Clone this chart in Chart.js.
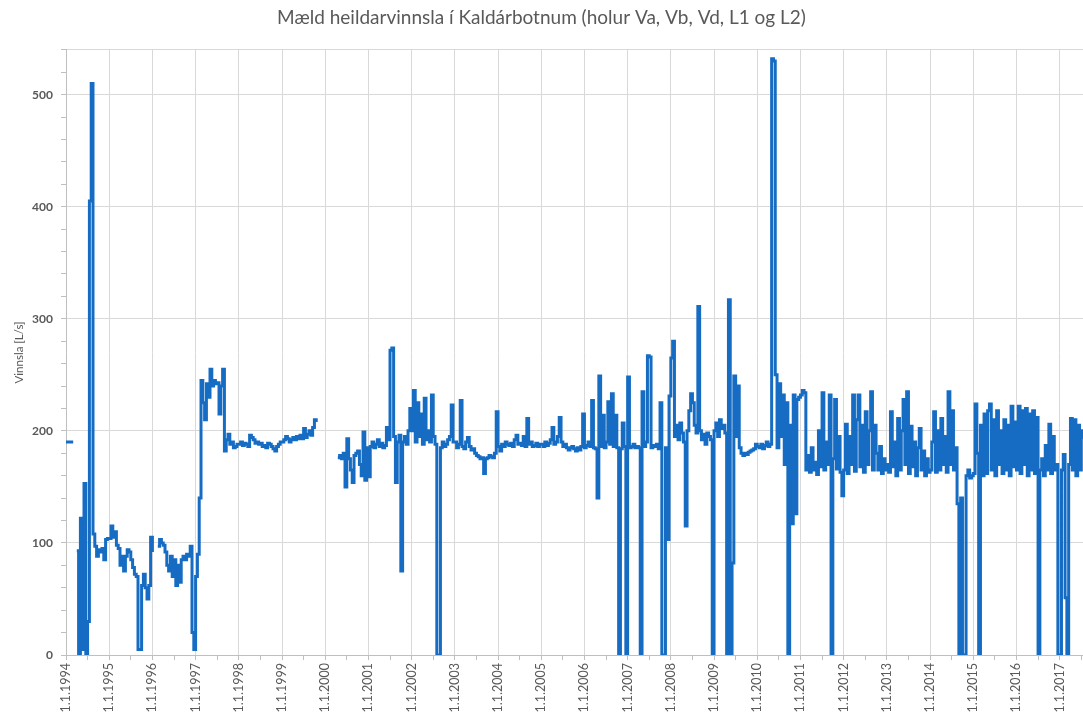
<!DOCTYPE html>
<html lang="is">
<head>
<meta charset="utf-8">
<title>Vinnsla í Kaldárbotnum</title>
<script src="https://cdn.jsdelivr.net/npm/chart.js@4.4.1/dist/chart.umd.min.js"></script>
<style>
  html, body { margin: 0; padding: 0; background: #fff; }
  canvas { display: block; }
</style>
</head>
<body>
<canvas id="vinnslaChart" width="1083" height="715"></canvas>
<script>
// Mæld vinnsla [L/s], hálfsmánaðargildi (24 á ári), null = engar mælingar
const years = [1994, 1995, 1996, 1997, 1998, 1999, 2000, 2001, 2002, 2003, 2004, 2005,
               2006, 2007, 2008, 2009, 2010, 2011, 2012, 2013, 2014, 2015, 2016, 2017];

const flow1994 = [190,190,190,190,190,null,93,0,122,5,153,0,30,405,510,108,97,88,94,92,95,85,103,104];
const flow1995 = [104,115,105,110,98,95,80,88,75,88,94,92,85,78,72,70,5,5,62,72,60,50,62,105];
const flow1996 = [92,null,null,97,103,100,98,92,80,75,88,70,85,62,80,65,85,88,85,90,88,97,20,5];
const flow1997 = [70,90,140,245,225,210,242,230,255,240,245,242,243,215,240,255,182,192,197,188,190,185,186,188];
const flow1998 = [188,190,187,189,188,186,196,194,192,189,190,188,189,186,187,185,189,188,186,184,182,186,188,190];
const flow1999 = [190,192,195,193,190,192,194,192,195,193,196,193,202,194,197,200,196,203,210,208,null,null,null,null];
const flow2000 = [null,null,null,null,null,null,null,176,178,175,180,150,193,175,165,154,178,180,182,170,160,199,156,185];
const flow2001 = [159,186,190,185,188,192,186,189,185,187,203,192,272,274,195,154,190,196,75,190,195,188,200,220];
const flow2002 = [200,236,190,225,195,215,188,229,192,200,190,232,195,188,0,0,185,190,186,188,192,195,223,190];
const flow2003 = [190,185,188,227,186,184,190,194,186,183,184,180,178,177,175,176,162,175,176,178,177,176,180,217];
const flow2004 = [186,182,188,186,190,188,187,189,186,192,196,188,189,187,195,186,211,188,190,186,187,189,186,188];
const flow2005 = [188,186,190,187,189,192,203,188,190,195,212,190,186,188,185,183,185,186,184,182,185,183,186,215];
const flow2006 = [185,187,190,186,227,185,184,140,249,186,214,185,190,226,188,233,186,214,185,0,184,207,186,0];
const flow2007 = [248,185,186,188,185,186,185,0,235,186,190,267,266,185,187,186,188,184,225,0,0,185,103,231];
const flow2008 = [265,280,195,205,192,207,198,190,115,200,218,233,225,205,198,311,200,192,197,188,198,195,192,0];
const flow2009 = [200,207,195,210,202,205,198,0,317,0,82,249,195,240,185,180,178,180,179,181,182,183,184,188];
const flow2010 = [186,185,188,184,187,190,186,188,532,530,250,185,242,195,232,170,225,0,205,117,232,126,228,230];
const flow2011 = [232,236,234,165,178,163,185,165,172,161,200,168,234,165,190,170,232,0,175,228,166,195,163,142];
const flow2012 = [165,206,162,195,170,232,164,210,232,168,205,163,217,170,200,235,165,205,180,165,186,162,175,165];
const flow2013 = [170,163,217,168,190,160,211,165,200,228,170,235,162,204,168,190,160,185,202,165,182,160,175,163];
const flow2014 = [165,190,217,163,200,165,211,170,195,163,235,170,218,165,185,135,0,140,0,0,160,165,158,160];
const flow2015 = [162,224,180,0,205,160,215,162,218,224,165,210,160,218,170,200,162,210,165,205,160,222,168,208];
const flow2016 = [165,222,162,218,170,220,160,215,165,218,162,212,0,165,175,160,187,165,206,162,195,165,170,0];
const flow2017 = [0,165,179,51,0,170,211,165,210,160,205,165,200,193];

const flowByYear = [flow1994, flow1995, flow1996, flow1997, flow1998, flow1999, flow2000, flow2001,
                    flow2002, flow2003, flow2004, flow2005, flow2006, flow2007, flow2008, flow2009,
                    flow2010, flow2011, flow2012, flow2013, flow2014, flow2015, flow2016, flow2017];

const samplesPerYear = 24;
const yTicks = [0, 100, 200, 300, 400, 500];

const textColor = '#595959';
const gridColor = '#d9d9d9';
const axisColor = '#bfbfbf';
const lineColor = '#156cc2';

function buildPoints() {
    const points = [];
    years.forEach((year, k) => {
        flowByYear[k].forEach((value, i) => {
            points.push({ x: year + i / samplesPerYear, y: value });
        });
    });
    return points;
}

function isWholeYear(v) {
    return Math.abs(v - Math.round(v)) < 1e-6;
}

const ctx = document.getElementById('vinnslaChart').getContext('2d');
new Chart(ctx, {
    type: 'line',
    data: {
        datasets: [{
            label: 'Vinnsla',
            data: buildPoints(),
            borderColor: lineColor,
            borderWidth: 3,
            pointRadius: 0,
            stepped: true,
            spanGaps: false,
            fill: false
        }]
    },
    options: {
        responsive: false,
        animation: false,
        devicePixelRatio: 1,
        layout: { padding: 0 },
        plugins: {
            legend: { display: false },
            tooltip: { enabled: false },
            title: {
                display: true,
                text: 'Mæld heildarvinnsla í Kaldárbotnum (holur Va, Vb, Vd, L1 og L2)',
                color: textColor,
                font: { family: 'Lato', size: 19, weight: 'normal' },
                padding: { top: 6, bottom: 21 }
            }
        },
        scales: {
            x: {
                type: 'linear',
                min: 1994,
                max: 2017.54,
                afterFit: function(scale) {
                    scale.height = 60;
                    scale.paddingLeft = 0;
                    scale.paddingRight = 0;
                },
                ticks: {
                    stepSize: 0.5,
                    includeBounds: false,
                    autoSkip: false,
                    minRotation: 90,
                    maxRotation: 90,
                    padding: 3,
                    color: textColor,
                    font: { family: 'Lato', size: 12.5 },
                    callback: v => isWholeYear(v) ? '1.1.' + Math.round(v) : ''
                },
                grid: {
                    color: c => (c.tick && isWholeYear(c.tick.value)) ? gridColor : 'rgba(0,0,0,0)',
                    tickColor: axisColor,
                    tickLength: 5
                },
                border: { color: axisColor }
            },
            y: {
                min: 0,
                max: 540,
                afterFit: function(scale) {
                    scale.width = 66;
                    scale.paddingTop = 0;
                    scale.paddingBottom = 0;
                },
                ticks: {
                    stepSize: 20,
                    padding: 8,
                    color: textColor,
                    font: { family: 'Lato', size: 12, weight: 'bold' },
                    callback: v => yTicks.includes(v) ? v : ''
                },
                grid: {
                    color: c => (c.tick && (yTicks.includes(c.tick.value) || c.tick.value === 540)) ? gridColor : 'rgba(0,0,0,0)',
                    tickColor: axisColor,
                    tickLength: 5
                },
                border: { color: axisColor },
                title: {
                    display: true,
                    text: 'Vinnsla [L/s]',
                    color: textColor,
                    font: { family: 'Lato', size: 11.5 },
                    padding: { top: 12, bottom: 0 }
                }
            }
        }
    }
});
</script>
</body>
</html>
